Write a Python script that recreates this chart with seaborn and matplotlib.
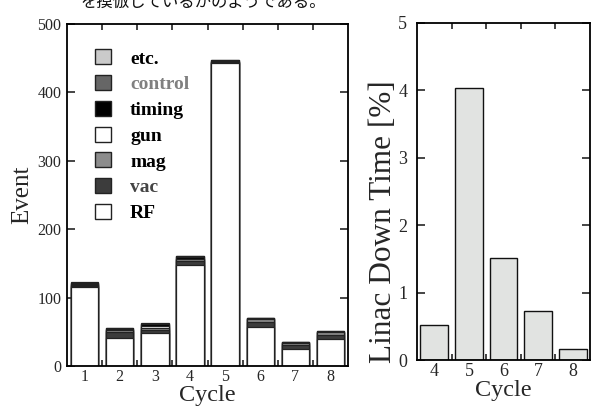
import numpy as np
import pandas as pd
import matplotlib
matplotlib.use("Agg")
import matplotlib.pyplot as plt
from matplotlib.patches import Patch
from matplotlib.ticker import FixedLocator
import seaborn as sns

# ---------------- data ----------------
cycles = ["1", "2", "3", "4", "5", "6", "7", "8"]
rf      = [115, 41, 48, 148, 443, 57, 25, 39]
vac     = [2,   8,  4,  6,   1,   7,  6,  6]
mag     = [2,   4,  3,  2,   1,   4,  3,  4]
gun     = [1,   0,  4,  1,   0,   0,  0,  0]
timing  = [1,   1,  3,  3,   1,   2,  1,  1]
control = [1,   1,  0,  1,   1,   0,  0,  1]
etc     = [1,   0,  1,  0,   0,   0,  0,  0]

layer_names = ["RF", "vac", "mag", "gun", "timing", "control", "etc."]
layer_values = [rf, vac, mag, gun, timing, control, etc]
layer_colors = ["#ffffff", "#3c3c3c", "#8c8c8c", "#ffffff", "#000000", "#666666", "#cacaca"]
legend_text_colors = ["#000000", "#444444", "#000000", "#000000", "#000000", "#808080", "#000000"]

down_cycles = ["4", "5", "6", "7", "8"]
down_time = [0.52, 4.03, 1.51, 0.73, 0.16]

caption = "を摸倣しているかのようである。"

# ---------------- style ----------------
sns.set_theme(style="ticks")
plt.rcParams["font.family"] = ["Liberation Serif", "DejaVu Serif"]
plt.rcParams["axes.linewidth"] = 1.3

fig = plt.figure(figsize=(5.91, 4.12), dpi=100)
ax1 = fig.add_axes([0.1134, 0.1117, 0.4755, 0.8300])
ax2 = fig.add_axes([0.7056, 0.1262, 0.2927, 0.8180])

# ---------------- left: stacked events ----------------
cum = np.cumsum(np.array(layer_values, dtype=float), axis=0)
df = pd.DataFrame({"Cycle": cycles})
for i in range(len(layer_names) - 1, -1, -1):
    df["val"] = cum[i]
    sns.barplot(data=df, x="Cycle", y="val", order=cycles, color=layer_colors[i],
                saturation=1, edgecolor="#222222", linewidth=0.9, width=0.78,
                errorbar=None, ax=ax1)

ax1.set_xlim(-0.5, 7.5)
ax1.set_ylim(0, 500)
ax1.set_yticks([0, 100, 200, 300, 400, 500])
ax1.set_xlabel("Cycle", fontsize=17.5, labelpad=0)
ax1.set_ylabel("Event", fontsize=18, labelpad=3)
ax1.tick_params(axis="x", which="major", length=0, labelsize=11.5, pad=2)
ax1.xaxis.set_minor_locator(FixedLocator(np.arange(0.5, 7.5, 1.0)))
ax1.tick_params(axis="x", which="minor", direction="in", top=True, bottom=True,
                length=4, width=1.2, color="#222222")
ax1.tick_params(axis="y", which="major", direction="in", left=True, right=True,
                length=6, width=1.2, labelsize=11.5, pad=4)
for s in ax1.spines.values():
    s.set_visible(True)
    s.set_color("#000000")

handles = [Patch(facecolor=layer_colors[i], edgecolor="#222222", linewidth=1.0)
           for i in range(len(layer_names) - 1, -1, -1)]
labels = [layer_names[i] for i in range(len(layer_names) - 1, -1, -1)]
leg = ax1.legend(handles, labels, loc="upper left", bbox_to_anchor=(0.100, 0.926),
                 frameon=False, borderpad=0, borderaxespad=0, handlelength=0.8,
                 handleheight=0.8, handletextpad=1.0, labelspacing=0.39,
                 prop={"family": "Liberation Serif", "weight": "bold", "size": 14})
tcols = [legend_text_colors[i] for i in range(len(layer_names) - 1, -1, -1)]
for t, c in zip(leg.get_texts(), tcols):
    t.set_color(c)

# ---------------- right: down time ----------------
df2 = pd.DataFrame({"Cycle": down_cycles, "Down": down_time})
sns.barplot(data=df2, x="Cycle", y="Down", order=down_cycles, color="#e1e3e1",
            saturation=1, edgecolor="#111111", linewidth=1.0, width=0.8,
            errorbar=None, ax=ax2)
ax2.set_xlim(-0.5, 4.5)
ax2.set_ylim(0, 5)
ax2.set_yticks([0, 1, 2, 3, 4, 5])
ax2.set_xlabel("Cycle", fontsize=17.5, labelpad=0)
ax2.set_ylabel("Linac Down Time [%]", fontsize=22.5)
ax2.yaxis.set_label_coords(-0.11, 0.41)
ax2.tick_params(axis="x", which="major", length=0, labelsize=13, pad=2)
ax2.xaxis.set_minor_locator(FixedLocator(np.arange(0.5, 4.5, 1.0)))
ax2.tick_params(axis="x", which="minor", direction="in", top=True, bottom=True,
                length=4, width=1.2, color="#222222")
ax2.tick_params(axis="y", which="major", direction="in", left=True, right=True,
                length=6, width=1.2, labelsize=13, pad=7)
for s in ax2.spines.values():
    s.set_visible(True)
    s.set_color("#000000")

# ---------------- cropped caption at the top ----------------
fig.text(80 / 591, 1 - 2 / 412, caption, ha="left", va="center", fontsize=11.8,
         family=["Noto Sans CJK JP", "DejaVu Sans"], color="#111111")

fig.savefig("out.png", dpi=100)
